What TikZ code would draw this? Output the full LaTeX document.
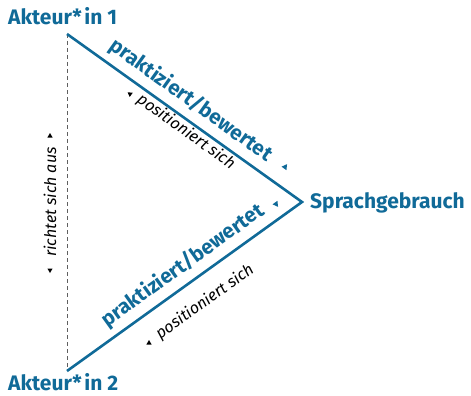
\documentclass[tikz,border=0pt]{standalone}
\usepackage{fontspec}
\setmainfont{Fira Sans}
\usetikzlibrary{shapes.geometric}

\definecolor{akblue}{RGB}{16,106,152}
\definecolor{dashgray}{RGB}{95,95,95}

\tikzset{
  actor/.style={font=\fontsize{21}{24}\selectfont\bfseries, text=akblue, inner sep=0pt},
  relation/.style={font=\fontsize{20.5}{24}\selectfont\bfseries, text=akblue, inner sep=0pt},
  note/.style={font=\fontsize{16}{18}\selectfont\itshape, text=black, inner sep=0pt},
  edge/.style={draw=akblue, line width=2.6pt, line join=miter},
  aux/.style={draw=dashgray, line width=0.8pt, dash pattern=on 4pt off 3pt},
  bluetri/.style={regular polygon, regular polygon sides=3, fill=akblue, inner sep=0pt, minimum size=7pt},
  blacktri/.style={regular polygon, regular polygon sides=3, fill=black, inner sep=0pt, minimum size=6pt},
}

\begin{document}
\begin{tikzpicture}[x=1pt, y=-1pt]
  \useasboundingbox (0,0) rectangle (471,396);

  % corners of the triangle
  \coordinate (v1) at (67,34);
  \coordinate (v2) at (67,371);
  \coordinate (vs) at (302,202);

  % actors and the shared object
  \node[actor, anchor=base west] (a1) at (8,25) {Akteur*\hspace{2.5pt}in 1};
  \node[actor, anchor=base west] (a2) at (8,390) {Akteur*\hspace{2.5pt}in 2};
  \node[actor, anchor=base west] (sg) at (310,208) {Sprachgebrauch};

  % connectors
  \draw[aux] (v1) -- (v2);
  \draw[edge] (v1) -- (vs) -- (v2);

  % upper relation
  \node[relation, rotate=-35.6] (r1) at (191,100.5) {praktiziert/bewertet};
  \node[bluetri, rotate=-35.6] (t1) at (285,167) {};
  \node[note, rotate=-35.6] (p1) at (186,132) {positioniert sich};
  \node[blacktri, rotate=54.4] (q1) at (130,94) {};

  % lower relation
  \node[relation, rotate=35.7] (r2) at (183,265.5) {praktiziert/bewertet};
  \node[bluetri, rotate=215.7] (t2) at (276,204) {};
  \node[note, rotate=35.7] (p2) at (205,302) {positioniert sich};
  \node[blacktri] (q2) at (149,343) {};

  % relation between the actors
  \node[note, rotate=90] (ra) at (50,202) {richtet sich aus};
  \node[blacktri] (u1) at (50,136) {};
  \node[blacktri, rotate=180] (u2) at (50,270) {};
\end{tikzpicture}
\end{document}
